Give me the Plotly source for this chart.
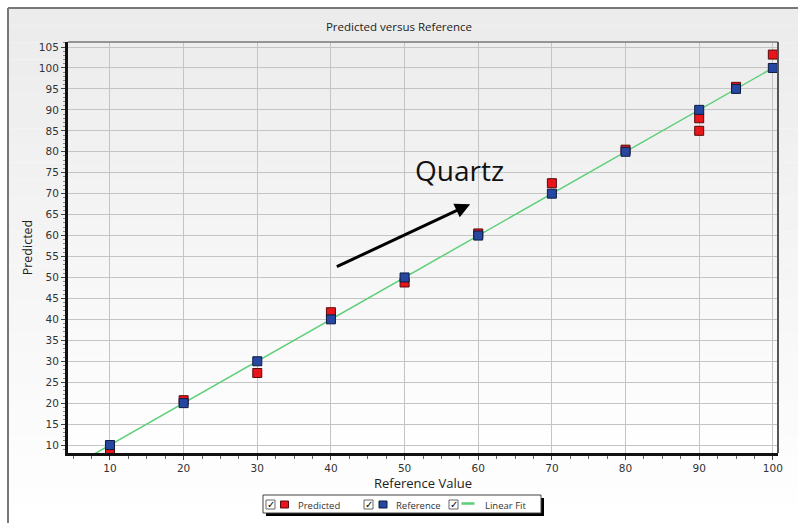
import plotly.graph_objects as go

# Predicted vs. reference values for the quartz calibration set
pred_x = [10, 20, 30, 40, 50, 60, 70, 80, 90, 90, 95, 100]
pred_y = [8.5, 20.7, 27.2, 41.7, 48.8, 60.5, 72.5, 80.5, 88.0, 85.0, 95.5, 103.2]

ref_x = [10, 20, 30, 40, 50, 60, 70, 80, 90, 95, 100]
ref_y = [10, 20, 30, 40, 50, 60, 70, 80, 90, 95, 100]

fit_x = [8, 100]
fit_y = [8, 100]

x_ticks = [10, 20, 30, 40, 50, 60, 70, 80, 90, 100]
y_ticks = list(range(10, 106, 5))

PRED_COLOR, PRED_EDGE = "#e8151b", "#5a0a0a"
REF_COLOR, REF_EDGE = "#2647a0", "#0d1a40"
FIT_COLOR = "#5ccf78"

W, H, L, T = 710, 411, 68, 42   # plot area size and offsets in px


def px(x):
    return (x - L) / W


def py(y):
    return 1 - (y - T) / H


fig = go.Figure()

# soft vertical gradient for the outer panel and the plotting area
n_bands = 30
for i in range(n_bands):
    t = i / (n_bands - 1)
    g = int(236 + (255 - 236) * t)
    fig.add_shape(type="rect", xref="paper", yref="paper", layer="below",
                  x0=px(8), x1=px(800), y0=py(8 + (i + 1) * 515 / n_bands),
                  y1=py(8 + i * 515 / n_bands),
                  fillcolor=f"rgb({g},{g},{g})", line_width=0)
for i in range(n_bands):
    t = i / (n_bands - 1)
    g = int(237 + (255 - 237) * t)
    fig.add_shape(type="rect", xref="paper", yref="paper", layer="below",
                  x0=0, x1=1, y0=1 - (i + 1) / n_bands, y1=1 - i / n_bands,
                  fillcolor=f"rgb({g},{g},{g})", line_width=0)

fig.add_trace(go.Scatter(
    x=fit_x, y=fit_y, mode="lines", name="Linear Fit",
    line=dict(color=FIT_COLOR, width=1.5),
))
fig.add_trace(go.Scatter(
    x=pred_x, y=pred_y, mode="markers", name="Predicted",
    marker=dict(symbol="square", size=9, color=PRED_COLOR,
                line=dict(color=PRED_EDGE, width=1)),
))
fig.add_trace(go.Scatter(
    x=ref_x, y=ref_y, mode="markers", name="Reference",
    marker=dict(symbol="square", size=9, color=REF_COLOR,
                line=dict(color=REF_EDGE, width=1)),
))

# outer frame border (left and top edges)
fig.add_shape(type="line", xref="paper", yref="paper", x0=px(8), x1=px(8),
              y0=py(523), y1=py(8), line=dict(color="#777777", width=2))
fig.add_shape(type="line", xref="paper", yref="paper", x0=px(8), x1=px(800),
              y0=py(8), y1=py(8), line=dict(color="#777777", width=2))

# plot area border: grey top, dark right
fig.add_shape(type="line", xref="paper", yref="paper", x0=0, x1=1, y0=1, y1=1,
              line=dict(color="#777777", width=1.5))
fig.add_shape(type="line", xref="paper", yref="paper", x0=1, x1=1, y0=0, y1=1,
              line=dict(color="#555555", width=2))

# annotation with arrow
fig.add_annotation(x=58.9, y=67.5, ax=40.6, ay=52.4, xref="x", yref="y",
                   axref="x", ayref="y", showarrow=True, arrowhead=2,
                   arrowsize=1, arrowwidth=3, arrowcolor="#000000", text="")
fig.add_annotation(x=57.4, y=75.6, xref="x", yref="y", text="Quartz",
                   showarrow=False,
                   font=dict(family="Open Sans", size=28, color="#111111"))

# legend: framed box with drop shadow, check boxes, keys and labels
lx0, lx1, ly0, ly1 = 263, 541, 495, 513
ymid = (ly0 + ly1) / 2 + 0.5
fig.add_shape(type="rect", xref="paper", yref="paper",
              x0=px(lx0 + 3), x1=px(lx1 + 3), y0=py(ly1 + 3), y1=py(ly0 + 3),
              fillcolor="#000000", line_width=0)
fig.add_shape(type="rect", xref="paper", yref="paper",
              x0=px(lx0), x1=px(lx1), y0=py(ly1), y1=py(ly0),
              fillcolor="#ffffff", line=dict(color="#444444", width=1))

legend_items = [
    ("Predicted", "square", PRED_COLOR, PRED_EDGE, 266, 284.5, 296),
    ("Reference", "square", REF_COLOR, REF_EDGE, 364, 383, 394),
    ("Linear Fit", "line", FIT_COLOR, None, 449, 468, 483),
]
for label, kind, color, edge, cbx, keyx, textx in legend_items:
    fig.add_shape(type="rect", xref="paper", yref="paper",
                  x0=px(cbx), x1=px(cbx + 9), y0=py(ymid + 4.5), y1=py(ymid - 4.5),
                  fillcolor="#ffffff", line=dict(color="#666666", width=1))
    fig.add_annotation(x=px(cbx + 4.5), y=py(ymid), xref="paper", yref="paper",
                       xanchor="center", yanchor="middle",
                       text="<b>✓</b>", showarrow=False,
                       font=dict(family="DejaVu Sans", size=10, color="#000000"))
    if kind == "square":
        fig.add_shape(type="rect", xref="paper", yref="paper",
                      x0=px(keyx - 4), x1=px(keyx + 4),
                      y0=py(ymid + 3.5), y1=py(ymid - 3.5),
                      fillcolor=color, line=dict(color=edge, width=1))
    else:
        fig.add_shape(type="line", xref="paper", yref="paper",
                      x0=px(keyx - 6.5), x1=px(keyx + 6.5),
                      y0=py(ymid - 1), y1=py(ymid - 1),
                      line=dict(color=color, width=2.5))
    fig.add_annotation(x=px(textx), y=py(ymid + 0.5), xref="paper", yref="paper",
                       xanchor="left", yanchor="middle", text=label,
                       showarrow=False,
                       font=dict(family="Open Sans", size=9.5, color="#333333"))

fig.update_layout(
    width=798, height=523,
    margin=dict(l=L, r=20, t=T, b=70, autoexpand=False),
    paper_bgcolor="#ffffff",
    plot_bgcolor="rgba(0,0,0,0)",
    title=dict(text="Predicted versus Reference", x=0.5, xanchor="center",
               y=1 - 27 / 523, yanchor="middle",
               font=dict(family="Open Sans", size=11.5, color="#222222")),
    showlegend=False,
    xaxis=dict(
        range=[4.3, 100.7], tickvals=x_ticks, ticks="outside", ticklen=4,
        tickcolor="#444444", showgrid=True, gridcolor="#c4c4c4", gridwidth=1,
        zeroline=False, showline=True, linecolor="#111111", linewidth=2.5,
        automargin=False,
        tickfont=dict(family="DejaVu Sans", size=10.5, color="#333333"),
        minor=dict(dtick=2.5, ticks="outside", ticklen=3, tickcolor="#666666",
                   showgrid=False),
        title=dict(text="Reference Value", standoff=4,
                   font=dict(family="Open Sans", size=13, color="#222222")),
    ),
    yaxis=dict(
        range=[8.1, 106.2], tickvals=y_ticks, ticks="outside", ticklen=4,
        tickcolor="#444444", showgrid=True, gridcolor="#c4c4c4", gridwidth=1,
        zeroline=False, showline=True, linecolor="#111111", linewidth=3,
        automargin=False,
        tickfont=dict(family="DejaVu Sans", size=10.5, color="#333333"),
        minor=dict(dtick=1, ticks="outside", ticklen=2, tickcolor="#888888",
                   showgrid=False),
        title=dict(text="Predicted", standoff=4,
                   font=dict(family="Open Sans", size=12.5, color="#222222")),
    ),
)

fig.write_html("out.html")
